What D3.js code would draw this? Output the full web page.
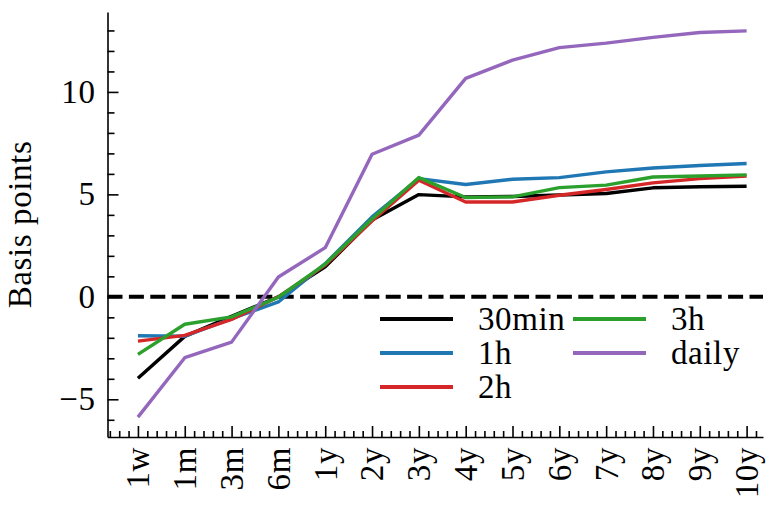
<!DOCTYPE html>
<html>
<head>
<meta charset="utf-8">
<script src="https://cdn.jsdelivr.net/npm/d3@7"></script>
<style>
  html, body { margin: 0; padding: 0; background: #fff; }
  svg { display: block; }
  text { font-family: "Liberation Serif", "DejaVu Serif", serif; fill: #000; letter-spacing: 0.6px; }
</style>
</head>
<body>
<svg id="chart" width="768" height="505"></svg>
<script>
// Maturities along the x axis
const maturities = ["1w", "1m", "3m", "6m", "1y", "2y", "3y", "4y", "5y", "6y", "7y", "8y", "9y", "10y"];

// Response in basis points by sampling frequency
const seriesNames = ["30min", "1h", "2h", "3h", "daily"];
const values30min = [-3.97, -1.93, -0.95, 0.0, 1.46, 3.75, 4.99, 4.88, 4.90, 4.97, 5.04, 5.32, 5.37, 5.40];
const values1h    = [-1.90, -1.92, -1.07, -0.25, 1.62, 3.90, 5.77, 5.48, 5.74, 5.82, 6.10, 6.29, 6.41, 6.51];
const values2h    = [-2.16, -1.88, -1.10, 0.0, 1.55, 3.70, 5.69, 4.63, 4.63, 4.96, 5.24, 5.56, 5.77, 5.90];
const values3h    = [-2.81, -1.34, -0.98, -0.02, 1.60, 3.80, 5.82, 4.85, 4.88, 5.33, 5.45, 5.85, 5.90, 5.95];
const valuesDaily = [-5.87, -2.97, -2.21, 0.97, 2.40, 6.96, 7.89, 10.66, 11.55, 12.16, 12.38, 12.66, 12.90, 12.98];
const seriesColors = ["#000000", "#1f77b4", "#d62728", "#2ca02c", "#9467bd"];

// Y axis ticks
const yMajorTicks = [-5, 0, 5, 10];
const yMinorTicks = [-6, -4, -3, -2, -1, 1, 2, 3, 4, 6, 7, 8, 9, 11, 12, 13];

const series = [values30min, values1h, values2h, values3h, valuesDaily];

const svg = d3.select("#chart");
const fontSize = 33;

const x = d3.scaleLinear().domain([-0.65, 13.35]).range([107.5, 763]);
const y = d3.scaleLinear().domain([-6.84, 13.9]).range([437, 12]);

// Minor x ticks every fifth of a step, skipping the labelled ones
const xMinor = d3.range(-3, 67).map(k => k / 5).filter(v => Math.abs(v - Math.round(v)) > 1e-6);

// Zero reference line
svg.append("line")
  .attr("x1", x.range()[0]).attr("x2", x.range()[1])
  .attr("y1", y(0)).attr("y2", y(0))
  .attr("stroke", "#000").attr("stroke-width", 4)
  .attr("stroke-dasharray", "15,6.4");

// Series lines
const line = d3.line().x((d, i) => x(i)).y(d => y(d));
series.forEach((vals, k) => {
  svg.append("path")
    .datum(vals)
    .attr("d", line)
    .attr("fill", "none")
    .attr("stroke", seriesColors[k])
    .attr("stroke-width", 3.4)
    .attr("stroke-linejoin", "round");
});

// Y axis
const yAxis = svg.append("g")
  .attr("transform", `translate(${x.range()[0]},0)`)
  .call(d3.axisLeft(y).tickValues(yMajorTicks).tickSize(-11).tickSizeOuter(0).tickPadding(12)
        .tickFormat(d => d < 0 ? "\u2212" + Math.abs(d) : d));
yAxis.append("g")
  .call(d3.axisLeft(y).tickValues(yMinorTicks).tickSize(-7).tickFormat(""))
  .call(g => g.select(".domain").remove());

// X axis
const xAxis = svg.append("g")
  .attr("transform", `translate(0,${y.range()[0]})`)
  .call(d3.axisBottom(x).tickValues(d3.range(maturities.length)).tickSize(-11).tickSizeOuter(0)
        .tickFormat(i => maturities[i]));
xAxis.append("g")
  .call(d3.axisBottom(x).tickValues(xMinor).tickSize(-6).tickFormat(""))
  .call(g => g.select(".domain").remove());

xAxis.selectAll(".tick text")
  .attr("transform", "rotate(-90)")
  .attr("x", -10).attr("y", 0)
  .attr("dy", "0.33em")
  .attr("text-anchor", "end");

svg.selectAll(".domain, .tick line").attr("stroke", "#000").attr("stroke-width", 1.6);
svg.selectAll(".tick text").attr("font-size", fontSize)
  .attr("font-family", "'Liberation Serif', 'DejaVu Serif', serif").attr("fill", "#000");

// Y axis title
svg.append("text")
  .attr("transform", `translate(31,${(y.range()[0] + y.range()[1]) / 2}) rotate(-90)`)
  .attr("text-anchor", "middle")
  .attr("font-size", fontSize)
  .text("Basis points");

// Legend, two columns
const legendCols = [[0, 1, 2], [3, 4]];
const colX = [380, 573];
const rowY = [319, 353, 387];
legendCols.forEach((col, c) => {
  col.forEach((k, r) => {
    svg.append("line")
      .attr("x1", colX[c]).attr("x2", colX[c] + 73)
      .attr("y1", rowY[r]).attr("y2", rowY[r])
      .attr("stroke", seriesColors[k]).attr("stroke-width", 4);
    svg.append("text")
      .attr("x", colX[c] + 98).attr("y", rowY[r])
      .attr("dy", "0.33em")
      .attr("font-size", fontSize)
      .text(seriesNames[k]);
  });
});
</script>
</body>
</html>
